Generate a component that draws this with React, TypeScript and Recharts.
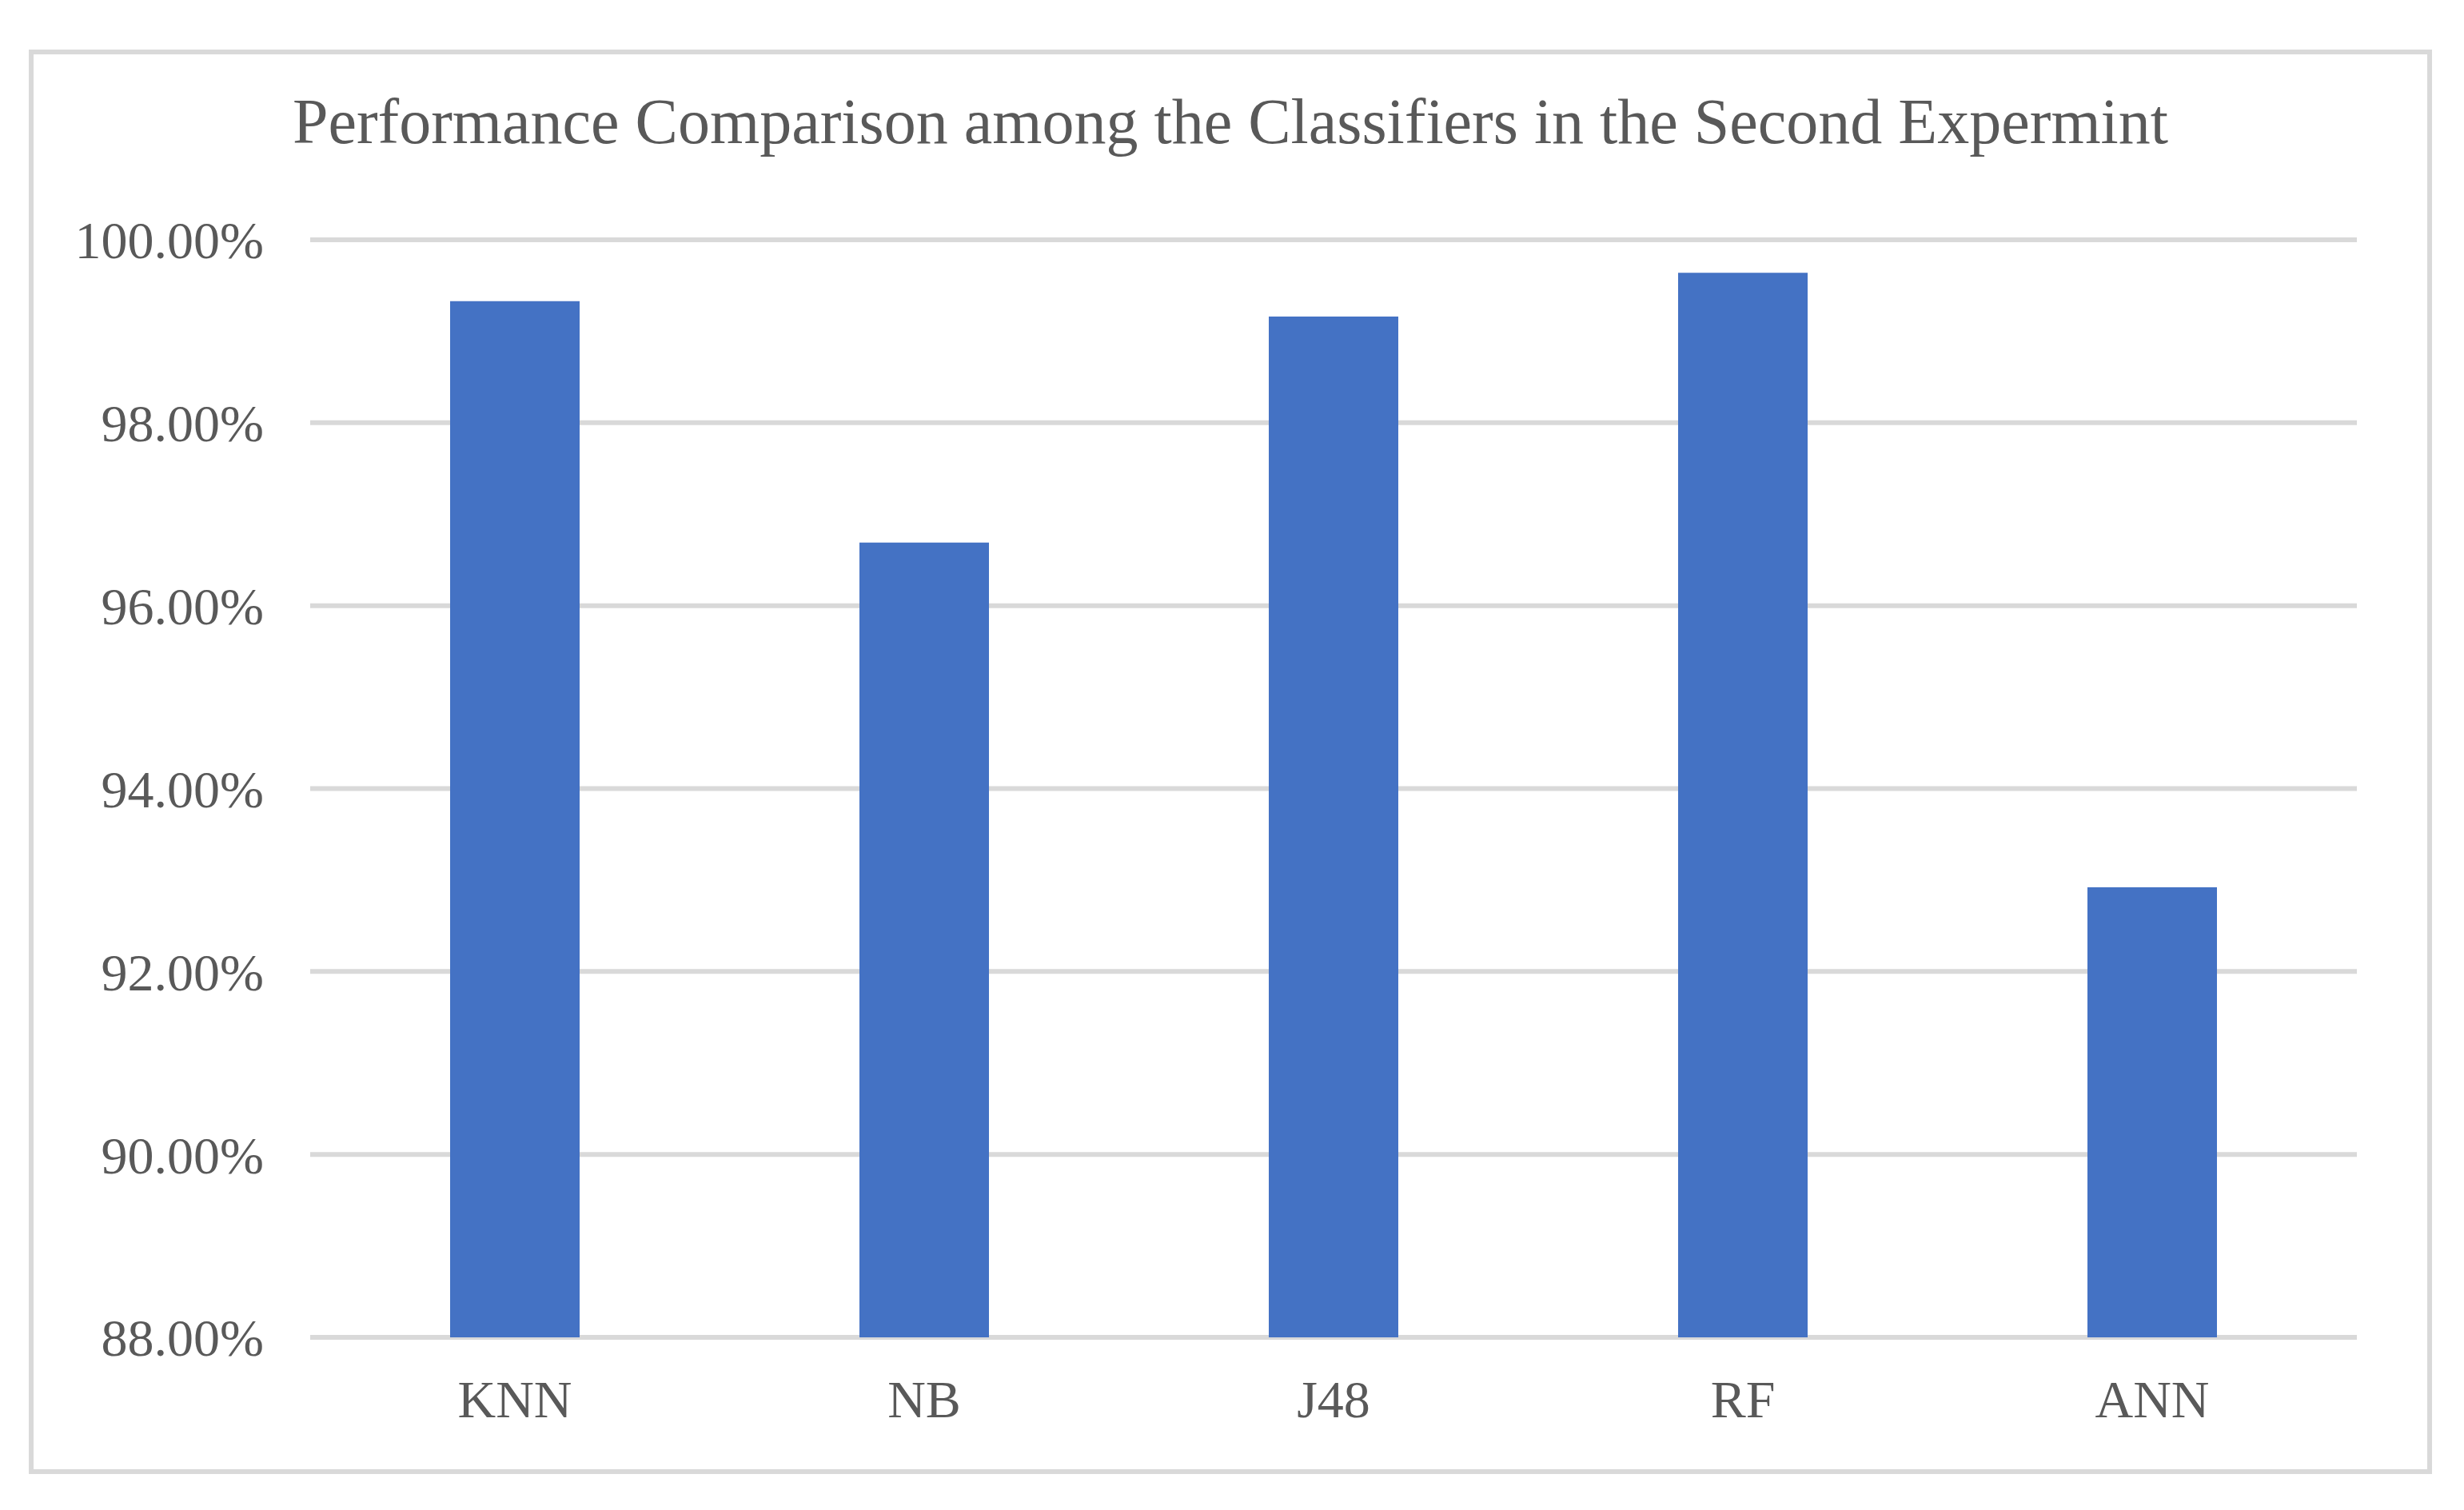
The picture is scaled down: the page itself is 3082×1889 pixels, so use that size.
import React from 'react';
import { BarChart, Bar, XAxis, YAxis, CartesianGrid } from 'recharts';

const classifiers = ['KNN', 'NB', 'J48', 'RF', 'ANN'];
const accuracy = [99.33, 96.69, 99.16, 99.64, 92.92];
const yTicks = [88, 90, 92, 94, 96, 98, 100];

const chartData = classifiers.map((name, i) => ({ name, accuracy: accuracy[i] }));

const FONT = '"Liberation Serif", "Times New Roman", serif';
const TEXT = '#595959';

export default function App() {
  return (
    <div
      style={{
        position: 'absolute',
        left: 36,
        top: 62,
        width: 2994,
        height: 1770,
        border: '6px solid #d9d9d9',
        background: '#fff',
        fontFamily: FONT,
      }}
    >
      <div
        style={{
          position: 'absolute',
          top: 44,
          left: 0,
          width: '100%',
          textAlign: 'center',
          fontSize: 80,
          lineHeight: '80px',
          color: TEXT,
        }}
      >
        Performance Comparison among the Classifiers in the Second Expermint
      </div>
      <BarChart
        width={2994}
        height={1770}
        data={chartData}
        margin={{ top: 232, right: 88, left: 0, bottom: 0 }}
        barSize={162}
      >
        <CartesianGrid vertical={false} stroke="#d9d9d9" strokeWidth={6} />
        <YAxis
          width={346}
          domain={[88, 100]}
          ticks={yTicks}
          allowDataOverflow
          axisLine={false}
          tickLine={false}
          tickSize={0}
          tickMargin={58}
          tickFormatter={(v: number) => v.toFixed(2) + '%'}
          tick={{ fill: TEXT, fontSize: 66, fontFamily: FONT }}
        />
        <XAxis
          dataKey="name"
          height={165}
          axisLine={false}
          tickLine={false}
          tickSize={0}
          tickMargin={53}
          tick={{ fill: TEXT, fontSize: 66, fontFamily: FONT }}
        />
        <Bar dataKey="accuracy" fill="#4472c4" isAnimationActive={false} />
      </BarChart>
    </div>
  );
}
